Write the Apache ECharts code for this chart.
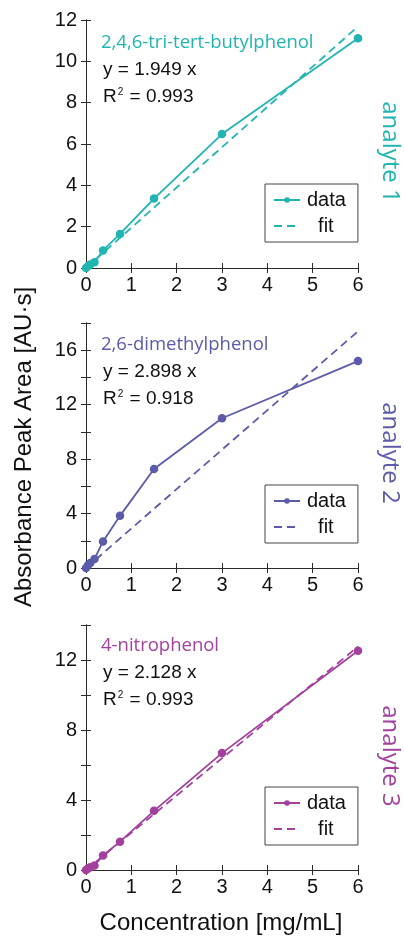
<!DOCTYPE html>
<html>
<head>
<meta charset="utf-8">
<script src="https://cdn.jsdelivr.net/npm/echarts@6/dist/echarts.min.js"></script>
<style>
html,body{margin:0;padding:0;background:#fff;}
#chart{width:404px;height:939px;}
</style>
</head>
<body>
<div id="chart"></div>
<script>
// ---- data ----
var conc = [0, 0.046875, 0.09375, 0.1875, 0.375, 0.75, 1.5, 3, 6];
var analyte1 = [0, 0.1, 0.17, 0.28, 0.85, 1.65, 3.36, 6.48, 11.12];
var analyte2 = [0, 0.22, 0.36, 0.66, 1.95, 3.83, 7.28, 11.0, 15.2];
var analyte3 = [0, 0.09, 0.16, 0.26, 0.83, 1.62, 3.38, 6.68, 12.53];
var fitX = [0, 6];
var fit1 = [0, 11.69];
var fit2 = [0, 17.39];
var fit3 = [0, 12.77];
var compounds = ['2,4,6-tri-tert-butylphenol', '2,6-dimethylphenol', '4-nitrophenol'];
var equations = ['y = 1.949 x', 'y = 2.898 x', 'y = 2.128 x'];
var r2 = ['0.993', '0.918', '0.993'];
var panelLabels = ['analyte 1', 'analyte 2', 'analyte 3'];
var yMax = [12, 18, 14];
var yLabelStep = [2, 4, 4];
var xTicks = [0, 1, 2, 3, 4, 5, 6];

var colors = ['#21b5b2', '#5b5ba9', '#a3409e'];
var dataSets = [analyte1, analyte2, analyte3];
var fitSets = [fit1, fit2, fit3];

function pairs(xs, ys) { return xs.map(function (x, i) { return [x, ys[i]]; }); }

var gridTops = [20, 323, 625];
var gridH = [248, 245, 245];
var axisColor = '#2a2a2a';
var tickFont = 'Liberation Sans';

var grids = [], xAxes = [], yAxes = [], series = [], legends = [], graphics = [];

for (var p = 0; p < 3; p++) {
  grids.push({left: 86, top: gridTops[p], width: 272, height: gridH[p]});
  (function (p) {
    xAxes.push({
      type: 'value', gridIndex: p, position: 'bottom', min: 0, max: 6, interval: 1,
      axisLine: {show: true, lineStyle: {color: axisColor, width: 1}},
      axisTick: {show: true, inside: true, length: 5, lineStyle: {color: axisColor}},
      axisLabel: {color: '#111', fontFamily: tickFont, fontSize: 20, margin: 7,
        formatter: function (v) { return xTicks.indexOf(v) >= 0 ? String(v) : ''; }},
      splitLine: {show: false}
    });
    xAxes.push({
      type: 'value', gridIndex: p, position: 'top', min: 0, max: 6, interval: 1,
      axisLine: {show: true, lineStyle: {color: axisColor, width: 1}},
      axisTick: {show: true, inside: true, length: 5, lineStyle: {color: axisColor}},
      axisLabel: {show: false}, splitLine: {show: false}
    });
    yAxes.push({
      type: 'value', gridIndex: p, position: 'left', min: 0, max: yMax[p], interval: 2,
      axisLine: {show: true, lineStyle: {color: axisColor, width: 1}},
      axisTick: {show: true, inside: true, length: 5, lineStyle: {color: axisColor}},
      axisLabel: {color: '#111', fontFamily: tickFont, fontSize: 20, margin: 9,
        formatter: function (v) { return (v % yLabelStep[p] === 0) ? String(v) : ''; }},
      splitLine: {show: false}
    });
    yAxes.push({
      type: 'value', gridIndex: p, position: 'right', min: 0, max: yMax[p], interval: 2,
      axisLine: {show: true, lineStyle: {color: axisColor, width: 1}},
      axisTick: {show: true, inside: true, length: 5, lineStyle: {color: axisColor}},
      axisLabel: {show: false}, splitLine: {show: false}
    });
  })(p);

  series.push({
    name: 'data' + (p + 1), type: 'line', xAxisIndex: p * 2, yAxisIndex: p * 2,
    data: pairs(conc, dataSets[p]), symbol: 'circle', symbolSize: 8.5, showSymbol: true,
    lineStyle: {color: colors[p], width: 1.8}, itemStyle: {color: colors[p]},
    z: 3, animation: false
  });
  series.push({
    name: 'fit' + (p + 1), type: 'line', xAxisIndex: p * 2, yAxisIndex: p * 2,
    data: pairs(fitX, fitSets[p]), symbol: 'none',
    lineStyle: {color: colors[p], width: 1.8, type: [8, 5]}, itemStyle: {color: colors[p]},
    z: 2, animation: false
  });

  var legTop = [184, 485, 787][p];
  legends.push({
    data: [
      {name: 'data' + (p + 1)},
      {name: 'fit' + (p + 1), itemStyle: {opacity: 0}}
    ],
    orient: 'vertical', left: 265, top: legTop,
    backgroundColor: '#fff', borderColor: '#444', borderWidth: 1,
    padding: [6, 12, 6, 8], itemGap: 6, itemWidth: 26, itemHeight: 7,
    selectedMode: false,
    textStyle: {color: '#111', fontFamily: tickFont, fontSize: 20, padding: [0, 0, 0, 2]},
    formatter: function (n) { return n.indexOf('data') === 0 ? 'data' : '  fit'; }
  });

  var nameY = [45, 347, 648][p];
  graphics.push({
    type: 'text', left: 101, top: nameY - 12,
    style: {text: compounds[p], fill: colors[p], font: '18.5px "Open Sans"'}
  });
  graphics.push({
    type: 'text', left: 103, top: nameY + 15,
    style: {text: equations[p], fill: '#111', font: '19px "Liberation Sans"'}
  });
  graphics.push({
    type: 'text', left: 103, top: nameY + 42,
    style: {
      text: '{a|R}{s|2}{a| = ' + r2[p] + '}',
      rich: {
        a: {fill: '#111', fontFamily: 'Liberation Sans', fontSize: 19},
        s: {fill: '#111', fontFamily: 'Liberation Sans', fontSize: 10, verticalAlign: 'top', padding: [0, 1, 8, 1]}
      }
    }
  });
  var labY = [152, 453, 756][p];
  graphics.push({
    type: 'text', x: 390, y: labY, rotation: -Math.PI / 2,
    style: {text: panelLabels[p], fill: colors[p], font: '24px "Open Sans"', textAlign: 'center', textVerticalAlign: 'middle'}
  });
}

graphics.push({
  type: 'text', x: 24, y: 447, rotation: Math.PI / 2,
  style: {text: 'Absorbance Peak Area [AU·s]', fill: '#111', font: '24px "Liberation Sans"', textAlign: 'center', textVerticalAlign: 'middle'}
});
graphics.push({
  type: 'text', x: 221, y: 923,
  style: {text: 'Concentration [mg/mL]', fill: '#111', font: '24px "Liberation Sans"', textAlign: 'center', textVerticalAlign: 'middle'}
});

var chart = echarts.init(document.getElementById('chart'), null, {renderer: 'canvas'});
chart.setOption({
  animation: false,
  backgroundColor: '#fff',
  grid: grids,
  xAxis: xAxes,
  yAxis: yAxes,
  legend: legends,
  series: series,
  graphic: graphics
});
</script>
</body>
</html>
